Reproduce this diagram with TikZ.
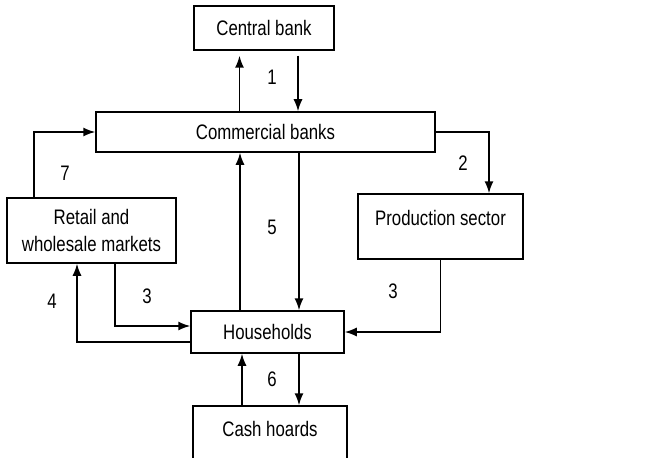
\documentclass[tikz,border=0pt]{standalone}
\usepackage{fontspec}
\setmainfont{Liberation Sans}[FakeStretch=0.8]
\usetikzlibrary{arrows.meta}
\tikzset{
  box/.style={draw,line width=1.5pt,inner sep=0pt,align=center},
  flow/.style={->,line width=1.5pt},
  num/.style={inner sep=0pt},
}
\begin{document}
\begin{tikzpicture}[>={Latex[length=12pt,width=9pt]},x=1pt,y=-1pt,font=\fontsize{21}{23}\selectfont]
\useasboundingbox (0,0) rectangle (660,457);
%%
\node (central) at (264,28) [box,minimum width=140pt,minimum height=44pt] {Central bank};
  \node (commercial) at (265.5,132) [box,minimum width=339pt,minimum height=40pt] {Commercial banks};
  \node (retail) at (91.5,230.5) [box,minimum width=169pt,minimum height=65pt,font=\fontsize{21}{27}\selectfont] {Retail and\\wholesale markets};
  \node (production) at (440.5,226.5) [box,minimum width=165pt,minimum height=65pt,font=\fontsize{21}{17}\selectfont] {Production sector\\\mbox{}};
  \node (households) at (267.5,332) [box,minimum width=153pt,minimum height=42pt] {Households};
  \node (cash) at (270,440) [box,minimum width=154pt,minimum height=68pt] {Cash hoards\\\mbox{}};
  \node (num_1) at (272,77) [num] {1};
  \node (num_2) at (463,163) [num] {2};
  \node (num_7) at (65,173) [num] {7};
  \node (num_5) at (272,227) [num] {5};
  \node (num_4) at (52,301) [num] {4};
  \node (num_3a) at (147,296) [num] {3};
  \node (num_3b) at (393,291) [num] {3};
  \node (num_6) at (272,379) [num] {6};
  \draw [flow,shorten >=5pt] ([xshift=-26pt]commercial.north) -- ([xshift=-26pt]commercial.north |- central.south);
  \draw [flow,shorten <=5pt] ([xshift=34pt]central.south) -- ([xshift=34pt]central.south |- commercial.north);
  \draw [flow] (commercial.east) -| ([xshift=48.5pt]production.north);
  \draw [flow] ([xshift=-57.5pt]retail.north) |- (commercial.west);
  \draw [flow] ([xshift=-27.5pt]households.north) -- ([xshift=-27.5pt]households.north |- commercial.south);
  \draw [flow] ([xshift=33.5pt]commercial.south) -- ([xshift=33.5pt]commercial.south |- households.north);
  \draw [flow] ([yshift=-10pt]households.west) -| ([xshift=-14.5pt]retail.south);
  \draw [flow] ([xshift=23.5pt]retail.south) |- ([yshift=6pt]households.west);
  \draw [flow] (production.south) |- (households.east);
  \draw [flow] ([xshift=-28pt]cash.north) -- ([xshift=-28pt]cash.north |- households.south);
  \draw [flow] ([xshift=31.5pt]households.south) -- ([xshift=31.5pt]households.south |- cash.north);
%
\end{tikzpicture}
\end{document}
